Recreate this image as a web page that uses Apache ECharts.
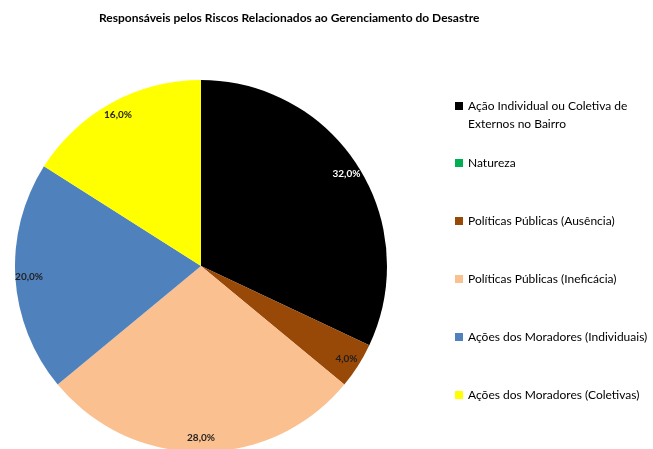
<!DOCTYPE html>
<html>
<head>
<meta charset="utf-8">
<script src="https://cdn.jsdelivr.net/npm/echarts@6/dist/echarts.min.js"></script>
<style>
  html, body { margin: 0; padding: 0; background: #fff; }
  #main { width: 653px; height: 449px; }
</style>
</head>
<body>
<div id="main"></div>
<script>
// dados
var titulo = 'Responsáveis pelos Riscos Relacionados ao Gerenciamento do Desastre';
var categorias = [
  'Ação Individual ou Coletiva de\nExternos no Bairro',
  'Natureza',
  'Políticas Públicas (Ausência)',
  'Políticas Públicas (Ineficácia)',
  'Ações dos Moradores (Individuais)',
  'Ações dos Moradores (Coletivas)'
];
var valores = [32.0, 0.0, 4.0, 28.0, 20.0, 16.0];
var cores = ['#000000', '#00b050', '#984807', '#fac090', '#4f81bd', '#ffff00'];
var coresRotulo = ['#ffffff', '#1f1f1f', '#1f1f1f', '#1f1f1f', '#1f1f1f', '#1f1f1f'];

var fonte = 'Lato';
var R = 186;

var dados = categorias.map(function (c, i) {
  return { name: c, value: valores[i], itemStyle: { color: cores[i] } };
});
// série só para posicionar os rótulos perto da borda
var dadosRotulo = categorias.map(function (c, i) {
  return {
    name: c, value: valores[i],
    label: { show: valores[i] > 0, color: coresRotulo[i] }
  };
});

var myChart = echarts.init(document.getElementById('main'));
var option = {
  backgroundColor: '#ffffff',
  animation: false,
  title: {
    text: titulo,
    left: 94,
    top: 7,
    textStyle: { fontFamily: fonte, fontSize: 12, fontWeight: 'bold', color: '#000' }
  },
  legend: [
    {
      // primeiro item tem duas linhas: linha vazia no topo para alinhar o ícone com a 1a linha
      orient: 'vertical',
      left: 455,
      top: 79,
      padding: 0,
      itemWidth: 8,
      itemHeight: 8,
      icon: 'rect',
      data: [categorias[0]],
      formatter: function (name) { return '\n' + name; },
      textStyle: { fontFamily: fonte, fontSize: 12, color: '#000', lineHeight: 18 }
    },
    {
      orient: 'vertical',
      left: 455,
      top: 154,
      padding: 0,
      itemWidth: 8,
      itemHeight: 8,
      itemGap: 40,
      icon: 'rect',
      data: categorias.slice(1),
      textStyle: { fontFamily: fonte, fontSize: 12, color: '#000', lineHeight: 18 }
    }
  ],
  series: [
    {
      type: 'pie',
      center: [201, 266],
      radius: [0, R],
      startAngle: 90,
      clockwise: true,
      silent: true,
      label: { show: false },
      labelLine: { show: false },
      data: dados
    },
    {
      type: 'pie',
      center: [201, 266],
      radius: [R * 0.82, R],
      startAngle: 90,
      clockwise: true,
      silent: true,
      legendHoverLink: false,
      itemStyle: { color: 'rgba(0,0,0,0)' },
      label: {
        position: 'inside',
        fontFamily: fonte,
        fontSize: 10,
        fontWeight: 'bold',
        formatter: function (p) {
          return p.value.toFixed(1).replace('.', ',') + '%';
        }
      },
      labelLine: { show: false },
      data: dadosRotulo
    }
  ]
};
myChart.setOption(option);
</script>
</body>
</html>
